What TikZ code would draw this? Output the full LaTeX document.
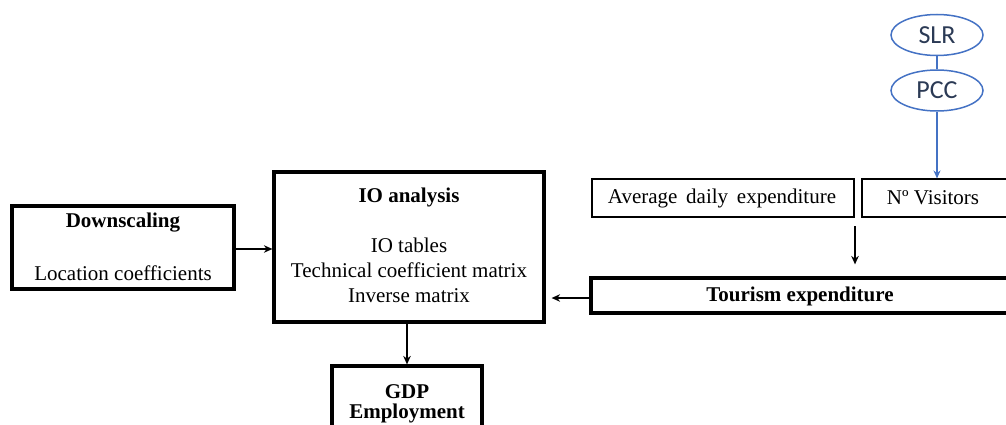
\documentclass[tikz,border=0pt]{standalone}
\usepackage{fontspec}
\setmainfont{Liberation Serif}
\newfontfamily\calib{Carlito}
\usetikzlibrary{arrows.meta,shapes.geometric,calc}
\definecolor{oblue}{HTML}{4472C4}
\definecolor{otext}{HTML}{2B3A55}
\tikzset{
  thickbox/.style={draw=black,line width=3.2pt,fill=white,inner sep=0pt},
  thinbox/.style={draw=black,line width=1.1pt,fill=white,inner sep=0pt},
  txt/.style={inner sep=0pt,font=\fontsize{21}{24}\selectfont},
  btxt/.style={inner sep=0pt,font=\fontsize{21}{24}\selectfont\bfseries},
  arr/.style={line width=1.8pt,-{Stealth[length=8.5pt,width=7.5pt]}},
  oval/.style={ellipse,draw=oblue,line width=1.5pt,inner sep=0pt,minimum width=92pt,minimum height=41pt,font=\calib\fontsize{26}{28}\selectfont,text=otext},
  barr/.style={draw=oblue,line width=1.6pt,-{Stealth[length=8pt,width=7pt]}},
}
\begin{document}
\begin{tikzpicture}[x=1pt,y=-1pt]
\useasboundingbox (0,0) rectangle (1006,425);
\clip (0,0) rectangle (1006,425);
% boxes
\node[thickbox,minimum width=222pt,minimum height=83pt] (down) at (123,247.5) {};
\node[thickbox,minimum width=270pt,minimum height=150pt] (io) at (409,247) {};
\node[thickbox,minimum width=150pt,minimum height=80pt] (gdp) at (407,406) {};
\node[thickbox,minimum width=430pt,minimum height=35pt] (tour) at (806,295.5) {};
\node[thinbox,minimum width=262pt,minimum height=38pt] (avg) at (723,198) {};
\node[thinbox,minimum width=160pt,minimum height=38pt] (vis) at (942,198) {};
\node[oval] (slr) at (937,35) {SLR};
\node[oval] (pcc) at (937,90.5) {PCC};
% texts
\node[btxt] (tdown) at (123,223) {Downscaling};
\node[txt] (tloc) at (123,273) {Location coefficients};
\node[btxt] (tio) at (409,197) {IO analysis};
\node[txt] (ttab) at (409,245) {IO tables};
\node[txt] (ttech) at (409,270.5) {Technical coefficient matrix};
\node[txt] (tinv) at (409,296) {Inverse matrix};
\node[btxt] (tgdp) at (407,392) {GDP};
\node[btxt] (temp) at (407,413) {Employment};
\node[btxt] (ttour) at (800,296) {Tourism expenditure};
\node[txt] (tavg) at (722,198) {Average\ \,daily\ \,expenditure};
\node[txt] (tvis) at (933,198) {Nº Visitors};
% connectors
\draw[arr] (down.east |- 0,249) -- (io.west |- 0,249);
\draw[arr] (io.south -| gdp.north) -- (gdp.north);
\draw[arr,shorten >=6pt] (tour.west |- 0,298) -- (io.east |- 0,298);
\coordinate (split) at (855,217);
\draw[arr,shorten <=9pt,shorten >=12pt] (split) -- (split |- tour.north);
\draw[draw=oblue,line width=1.5pt] (slr.south) -- (pcc.north);
\draw[barr] (pcc.south) -- (pcc.south |- vis.north);
\end{tikzpicture}
\end{document}
